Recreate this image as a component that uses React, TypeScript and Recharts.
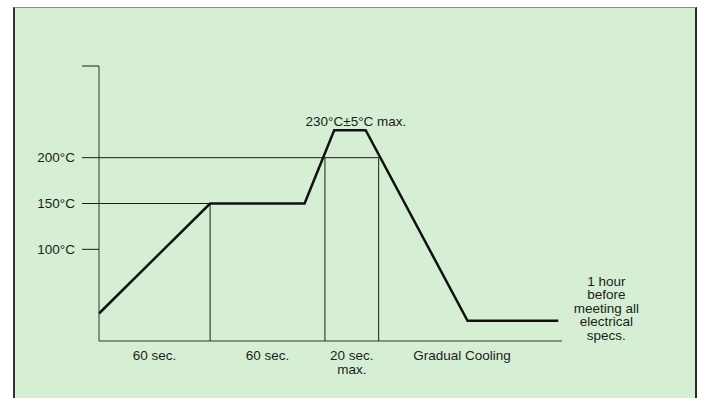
import React from "react";
import {
  LineChart,
  Line,
  XAxis,
  YAxis,
  ReferenceLine,
  ReferenceDot,
} from "recharts";

// reflow profile (time in s, temperature in °C)
const times = [0, 60, 111, 127, 144, 199, 248];
const temps = [30, 150, 150, 230, 230, 22, 22];

const yTicks = [100, 150, 200, 300];
const phaseEdges = [60, 122, 151];
const phaseCenters = [30, 91, 136.5, 196];
const phaseLabels = [["60 sec."], ["60 sec."], ["20 sec.", "max."], ["Gradual Cooling"]];
const peakNote = "230°C±5°C max.";
const endNote = ["1 hour", "before", "meeting all", "electrical", "specs."];

const INK = "#1c1c1c";
const FONT = "'Liberation Sans', Arial, sans-serif";
const FS = 13.5;

const data = times.map((t, i) => ({ t, temp: temps[i] }));

const PhaseTick = (props: any) => {
  const { x, payload } = props;
  const idx = phaseCenters.indexOf(payload.value);
  const lines = idx >= 0 ? phaseLabels[idx] : [];
  return (
    <g>
      {lines.map((s, i) => (
        <text key={i} x={x} y={360 + i * 14} textAnchor="middle" fill={INK} fontSize={FS} fontFamily={FONT}>
          {s}
        </text>
      ))}
    </g>
  );
};

const PeakNote = (props: any) => (
  <text x={props.cx + 6} y={props.cy - 4} textAnchor="middle" fill={INK} fontSize={FS} fontFamily={FONT}>
    {peakNote}
  </text>
);

const EndNote = (props: any) => (
  <g>
    {endNote.map((s, i) => (
      <text key={i} x={props.cx + 48} y={props.cy - 35 + i * 13.5} textAnchor="middle" fill={INK} fontSize={FS} fontFamily={FONT}>
        {s}
      </text>
    ))}
  </g>
);

export default function App() {
  return (
    <div style={{ position: "absolute", left: 0, top: 0, width: 702, height: 398, background: "#fff", overflow: "hidden" }}>
      <div
        style={{
          position: "absolute",
          left: 13,
          top: 7,
          width: 684,
          height: 400,
          boxSizing: "border-box",
          background: "#d6efd4",
          borderTop: "1px solid #8a8a8a",
          borderLeft: "2px solid #333",
          borderRight: "2px solid #2a2a2a",
        }}
      />
      <div style={{ position: "absolute", left: 0, top: 0 }}>
        <LineChart width={702} height={398} data={data} margin={{ top: 66, right: 140, bottom: 0, left: 0 }}>
          <XAxis
            dataKey="t"
            type="number"
            domain={[0, 250]}
            ticks={phaseEdges}
            tick={false}
            tickSize={8}
            height={9}
            interval={0}
            axisLine={{ stroke: "#333" }}
            tickLine={{ stroke: INK }}
          />
          <XAxis
            xAxisId="lab"
            dataKey="t"
            type="number"
            domain={[0, 250]}
            ticks={phaseCenters}
            tick={<PhaseTick />}
            axisLine={false}
            tickLine={false}
            height={48}
            interval={0}
          />
          <YAxis
            type="number"
            domain={[0, 300]}
            ticks={yTicks}
            width={99}
            tickSize={17}
            tickMargin={7}
            interval={0}
            tickFormatter={(v: number) => (v === 300 ? "" : `${v}°C`)}
            tick={{ fill: INK, fontSize: FS, fontFamily: FONT }}
            axisLine={{ stroke: "#333" }}
            tickLine={{ stroke: INK }}
          />
          <ReferenceLine segment={[{ x: 0, y: 200 }, { x: 151, y: 200 }]} stroke={INK} strokeWidth={1} />
          <ReferenceLine segment={[{ x: 0, y: 150 }, { x: 60, y: 150 }]} stroke={INK} strokeWidth={1} />
          <ReferenceLine segment={[{ x: 60, y: 0 }, { x: 60, y: 150 }]} stroke={INK} strokeWidth={1} />
          <ReferenceLine segment={[{ x: 122, y: 0 }, { x: 122, y: 200 }]} stroke={INK} strokeWidth={1} />
          <ReferenceLine segment={[{ x: 151, y: 0 }, { x: 151, y: 200 }]} stroke={INK} strokeWidth={1} />
          <Line
            type="linear"
            dataKey="temp"
            stroke="#111"
            strokeWidth={2.5}
            dot={false}
            activeDot={false}
            isAnimationActive={false}
          />
          <ReferenceDot x={135.5} y={230} r={0} shape={<PeakNote />} />
          <ReferenceDot x={248} y={22} r={0} shape={<EndNote />} />
        </LineChart>
      </div>
    </div>
  );
}
